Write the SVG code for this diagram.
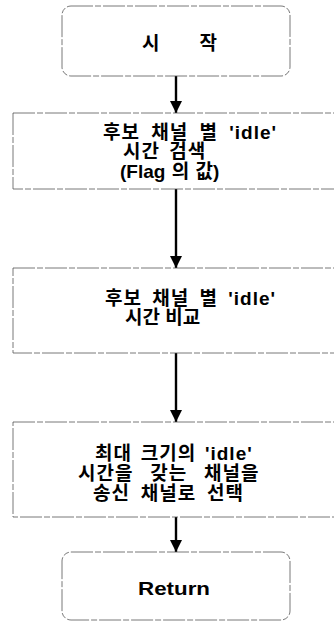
<svg xmlns="http://www.w3.org/2000/svg" width="334" height="624" viewBox="0 0 334 624">
<style>
.box{fill:#fff;stroke:#555;stroke-width:0.8;stroke-dasharray:22 2 6 2}
.t{font-family:"Liberation Sans","Noto Sans CJK KR",sans-serif;font-weight:bold;font-size:19px;fill:#000}
.c{stroke:#000;stroke-width:2.4;fill:none}
</style>
<defs>
<marker id="ah" markerUnits="userSpaceOnUse" markerWidth="13" markerHeight="12" refX="12" refY="6" orient="auto">
<path d="M0,0 L12,6 L0,12 z" fill="#000"/>
</marker>
</defs>
<rect width="334" height="624" fill="#fff"/>
<g id="connectors">
<line class="c" x1="176" y1="76" x2="176" y2="113" marker-end="url(#ah)"/>
<line class="c" x1="176" y1="189" x2="176" y2="268" marker-end="url(#ah)"/>
<line class="c" x1="176" y1="353" x2="176" y2="422" marker-end="url(#ah)"/>
<line class="c" x1="176" y1="517" x2="176" y2="552" marker-end="url(#ah)"/>
</g>
<g id="start">
<rect class="box" x="62" y="6" width="228" height="70" rx="9"/>
<text class="t" x="142" y="50" textLength="75" lengthAdjust="spacing">시 작</text>
</g>
<g id="search">
<rect class="box" x="13" y="113" width="335" height="76"/>
<text class="t" x="103" y="139" letter-spacing="1" word-spacing="5">후보 채널 별 'idle'</text>
<text class="t" x="123" y="158" letter-spacing="1" word-spacing="3">시간 검색</text>
<text class="t" x="120" y="178" word-spacing="1">(Flag 의 값)</text>
</g>
<g id="compare">
<rect class="box" x="13" y="268" width="335" height="85"/>
<text class="t" x="105" y="305" letter-spacing="1" word-spacing="4">후보 채널 별 'idle'</text>
<text class="t" x="125" y="324">시간 비교</text>
</g>
<g id="select">
<rect class="box" x="13" y="422" width="335" height="95"/>
<text class="t" x="95" y="460" letter-spacing="1" word-spacing="2.5">최대 크기의 'idle'</text>
<text class="t" x="78" y="480" letter-spacing="1" word-spacing="10.5">시간을 갖는 채널을</text>
<text class="t" x="93" y="500" letter-spacing="1" word-spacing="4.5">송신 채널로 선택</text>
</g>
<g id="return">
<rect class="box" x="62" y="552" width="228" height="68" rx="9"/>
<text class="t" x="138" y="595" textLength="72" lengthAdjust="spacingAndGlyphs">Return</text>
</g>
</svg>
